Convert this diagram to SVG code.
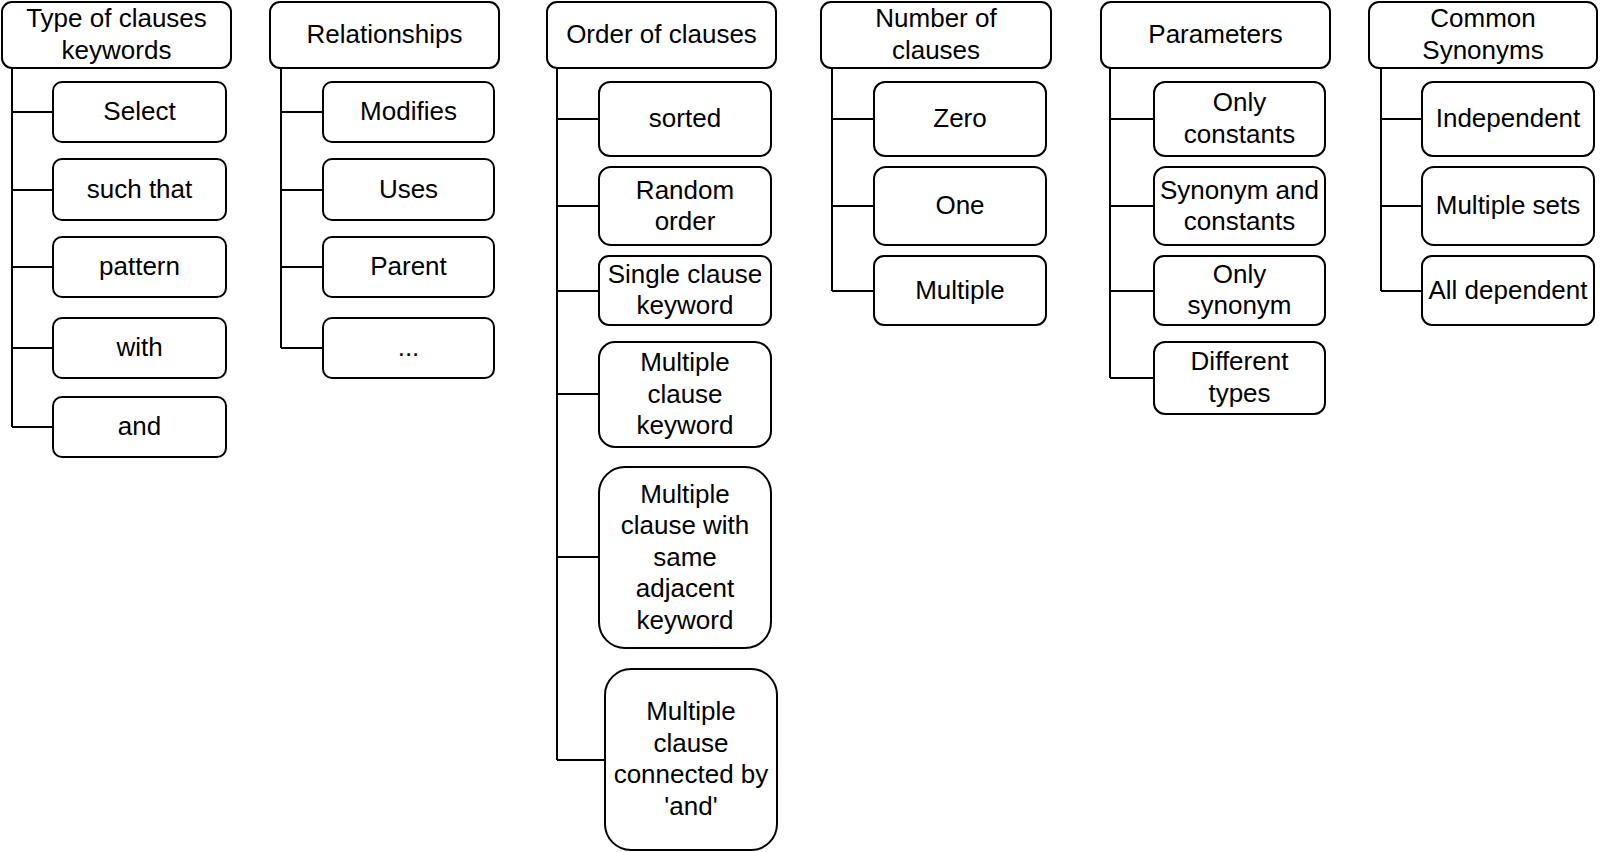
<svg xmlns="http://www.w3.org/2000/svg" width="1600" height="852" viewBox="0 0 1600 852">
<style>
rect{fill:#fff;stroke:#000;stroke-width:2}
text{font-family:"Liberation Sans",Arial,Helvetica,sans-serif;font-size:26px;fill:#000;text-anchor:middle}
.c{fill:none;stroke:#000;stroke-width:2}
</style>
<rect x="0" y="0" width="1600" height="852" style="stroke:none"/>
<g id="connectors">
<path class="c" d="M12,68V427M12,112H53M12,190H53M12,267H53M12,348H53M12,427H53"/>
<path class="c" d="M281,68V348M281,112H323M281,190H323M281,267H323M281,348H323"/>
<path class="c" d="M557,68V760M557,119H599M557,206H599M557,291H599M557,394H599M557,557H599M557,760H605"/>
<path class="c" d="M832,68V291M832,119H874M832,206H874M832,291H874"/>
<path class="c" d="M1110,68V378M1110,119H1154M1110,206H1154M1110,291H1154M1110,378H1154"/>
<path class="c" d="M1381,68V291M1381,119H1422M1381,206H1422M1381,291H1422"/>
</g>
<g id="type-of-clauses"><rect x="2" y="2" width="229" height="66" rx="10"/><text x="116.5" y="27">Type of clauses</text><text x="116.5" y="58.5">keywords</text></g>
<g id="select"><rect x="53" y="82" width="173" height="60" rx="9"/><text x="139.5" y="120">Select</text></g>
<g id="such-that"><rect x="53" y="159" width="173" height="61" rx="9"/><text x="139.5" y="198">such that</text></g>
<g id="pattern"><rect x="53" y="237" width="173" height="60" rx="9"/><text x="139.5" y="275">pattern</text></g>
<g id="with"><rect x="53" y="318" width="173" height="60" rx="9"/><text x="139.5" y="356">with</text></g>
<g id="and"><rect x="53" y="397" width="173" height="60" rx="9"/><text x="139.5" y="435">and</text></g>

<g id="relationships"><rect x="270" y="2" width="229" height="66" rx="10"/><text x="384.5" y="43">Relationships</text></g>
<g id="modifies"><rect x="323" y="82" width="171" height="60" rx="9"/><text x="408.5" y="120">Modifies</text></g>
<g id="uses"><rect x="323" y="159" width="171" height="61" rx="9"/><text x="408.5" y="198">Uses</text></g>
<g id="parent"><rect x="323" y="237" width="171" height="60" rx="9"/><text x="408.5" y="275">Parent</text></g>
<g id="etc"><rect x="323" y="318" width="171" height="60" rx="9"/><text x="408.5" y="356">...</text></g>

<g id="order-of-clauses"><rect x="547" y="2" width="229" height="66" rx="10"/><text x="661.5" y="43">Order of clauses</text></g>
<g id="sorted"><rect x="599" y="82" width="172" height="74" rx="11"/><text x="685" y="127">sorted</text></g>
<g id="random-order"><rect x="599" y="167" width="172" height="78" rx="12"/><text x="685" y="198.5">Random</text><text x="685" y="230">order</text></g>
<g id="single-clause-keyword"><rect x="599" y="256" width="172" height="69" rx="10"/><text x="685" y="282.5">Single clause</text><text x="685" y="314">keyword</text></g>
<g id="multiple-clause-keyword"><rect x="599" y="342" width="172" height="105" rx="16"/><text x="685" y="371">Multiple</text><text x="685" y="402.5">clause</text><text x="685" y="434">keyword</text></g>
<g id="multiple-clause-same-adjacent"><rect x="599" y="467" width="172" height="181" rx="26"/><text x="685" y="502.5">Multiple</text><text x="685" y="534">clause with</text><text x="685" y="565.5">same</text><text x="685" y="597">adjacent</text><text x="685" y="628.5">keyword</text></g>
<g id="multiple-clause-and"><rect x="605" y="669" width="172" height="181" rx="26"/><text x="691" y="720">Multiple</text><text x="691" y="751.5">clause</text><text x="691" y="783">connected by</text><text x="691" y="814.5">'and'</text></g>

<g id="number-of-clauses"><rect x="821" y="2" width="230" height="66" rx="10"/><text x="936" y="27">Number of</text><text x="936" y="58.5">clauses</text></g>
<g id="zero"><rect x="874" y="82" width="172" height="74" rx="11"/><text x="960" y="127">Zero</text></g>
<g id="one"><rect x="874" y="167" width="172" height="78" rx="12"/><text x="960" y="214">One</text></g>
<g id="multiple"><rect x="874" y="256" width="172" height="69" rx="10"/><text x="960" y="298.5">Multiple</text></g>

<g id="parameters"><rect x="1101" y="2" width="229" height="66" rx="10"/><text x="1215.5" y="43">Parameters</text></g>
<g id="only-constants"><rect x="1154" y="82" width="171" height="74" rx="11"/><text x="1239.5" y="111">Only</text><text x="1239.5" y="142.5">constants</text></g>
<g id="synonym-and-constants"><rect x="1154" y="167" width="171" height="78" rx="12"/><text x="1239.5" y="198.5">Synonym and</text><text x="1239.5" y="230">constants</text></g>
<g id="only-synonym"><rect x="1154" y="256" width="171" height="69" rx="10"/><text x="1239.5" y="282.5">Only</text><text x="1239.5" y="314">synonym</text></g>
<g id="different-types"><rect x="1154" y="342" width="171" height="72" rx="11"/><text x="1239.5" y="370">Different</text><text x="1239.5" y="401.5">types</text></g>

<g id="common-synonyms"><rect x="1369" y="2" width="228" height="66" rx="10"/><text x="1483" y="27">Common</text><text x="1483" y="58.5">Synonyms</text></g>
<g id="independent"><rect x="1422" y="82" width="172" height="74" rx="11"/><text x="1508" y="127">Independent</text></g>
<g id="multiple-sets"><rect x="1422" y="167" width="172" height="78" rx="12"/><text x="1508" y="214">Multiple sets</text></g>
<g id="all-dependent"><rect x="1422" y="256" width="172" height="69" rx="10"/><text x="1508" y="298.5">All dependent</text></g>
</svg>
